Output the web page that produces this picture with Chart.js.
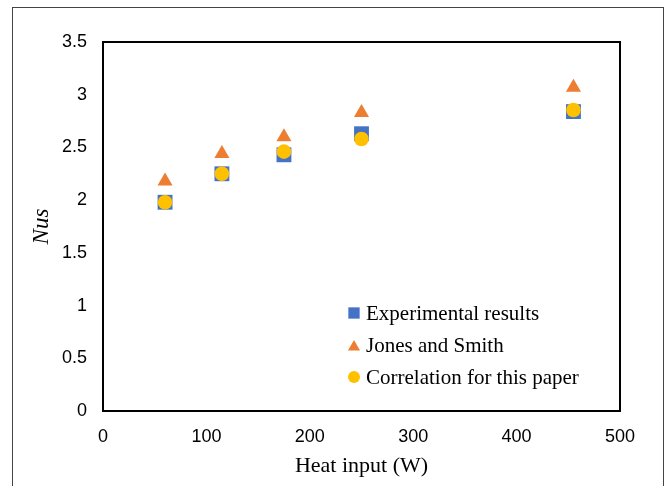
<!DOCTYPE html>
<html>

<head>
    <title>Nus vs heat input</title>
    <script src="https://cdn.jsdelivr.net/npm/chart.js@4"></script>

    <style type="text/css">
        html,
        body {
            margin: 0;
            padding: 0;
            background-color: #ffffff;
        }

        #frame {
            position: absolute;
            left: 12px;
            top: 7px;
            width: 650px;
            height: 520px;
            border: 1px solid #444;
        }

        #wrap {
            position: absolute;
            left: 0;
            top: 0;
            width: 666px;
            height: 486px;
        }
    </style>
</head>

<body>
    <div id="frame"></div>
    <div id="wrap"><canvas id="chartNus"></canvas></div>

    <script>
        // heat input (W)
        const heatInput = [60, 115, 175, 250, 455];

        // Nusselt numbers
        const experimental = [1.98, 2.25, 2.43, 2.63, 2.84];
        const jonesSmith = [2.18, 2.44, 2.60, 2.83, 3.07];
        const correlation = [1.98, 2.25, 2.46, 2.58, 2.855];

        const seriesNames = ["Experimental results", "Jones and Smith", "Correlation for this paper"];

        const xTicks = [0, 100, 200, 300, 400, 500];
        const yTicks = [0, 0.5, 1, 1.5, 2, 2.5, 3, 3.5];

        function toPoints(ys) {
            return heatInput.map(function(x, i) {
                return { x: x, y: ys[i] };
            });
        }

        // box round the plot area
        const frameBox = {
            id: 'frameBox',
            afterDraw: function(chart) {
                let ca = chart.chartArea;
                let ctx = chart.ctx;
                ctx.save();
                ctx.strokeStyle = '#000';
                ctx.lineWidth = 2;
                ctx.strokeRect(ca.left, ca.top, ca.right - ca.left, ca.bottom - ca.top);
                ctx.restore();
            }
        };

        // legend sitting inside the plot, lower right
        const insideLegend = {
            id: 'insideLegend',
            afterDraw: function(chart) {
                let ca = chart.chartArea;
                let ctx = chart.ctx;
                let sizes = [8, 7, 6];
                ctx.save();
                ctx.font = '21px "Liberation Serif", "Times New Roman", serif';
                ctx.textBaseline = 'middle';
                ctx.textAlign = 'left';
                chart.data.datasets.forEach(function(ds, i) {
                    let x = ca.left + 251;
                    let y = ca.top + 271 + i * 32;
                    ctx.fillStyle = ds.backgroundColor;
                    Chart.helpers.drawPoint(ctx, {
                        pointStyle: ds.pointStyle,
                        radius: sizes[i],
                        rotation: 0,
                        borderWidth: 0
                    }, x, y + (ds.pointStyle === 'triangle' ? 2 : 0));
                    ctx.fillStyle = '#000';
                    ctx.fillText(ds.label, x + 12, y + 1);
                });
                ctx.restore();
            }
        };

        function plainLabel(value) {
            return String(value);
        }

        window.onload = function() {
            let ctx = document.getElementById('chartNus').getContext('2d');

            new Chart(ctx, {
                type: 'scatter',
                data: {
                    datasets: [{
                        label: seriesNames[0],
                        data: toPoints(experimental),
                        pointStyle: 'rect',
                        pointRadius: 10.5,
                        backgroundColor: '#4472C4',
                        borderWidth: 0,
                        order: 3
                    }, {
                        label: seriesNames[1],
                        data: toPoints(jonesSmith),
                        pointStyle: 'triangle',
                        pointRadius: 8.7,
                        backgroundColor: '#ED7D31',
                        borderWidth: 0,
                        order: 2
                    }, {
                        label: seriesNames[2],
                        data: toPoints(correlation),
                        pointStyle: 'circle',
                        pointRadius: 7.3,
                        backgroundColor: '#FFC000',
                        borderWidth: 0,
                        order: 1
                    }]
                },
                options: {
                    responsive: true,
                    maintainAspectRatio: false,
                    animation: false,
                    layout: {
                        padding: { left: 0, top: 42, right: 46, bottom: 0 }
                    },
                    plugins: {
                        legend: { display: false },
                        tooltip: { enabled: false }
                    },
                    scales: {
                        x: {
                            type: 'linear',
                            min: 0,
                            max: 500,
                            afterBuildTicks: function(scale) {
                                scale.ticks = xTicks.map(function(v) { return { value: v }; });
                            },
                            afterFit: function(scale) {
                                scale.height = 75;
                            },
                            grid: { display: false, drawTicks: false },
                            border: { display: false },
                            ticks: {
                                padding: 15,
                                color: '#000',
                                callback: plainLabel,
                                font: { family: '"Liberation Sans", Arial, sans-serif', size: 18 }
                            },
                            title: {
                                display: true,
                                text: 'Heat input (W)',
                                color: '#000',
                                padding: { top: 0, bottom: 7 },
                                font: { family: '"Liberation Serif", "Times New Roman", serif', size: 22 }
                            }
                        },
                        y: {
                            type: 'linear',
                            min: 0,
                            max: 3.5,
                            afterBuildTicks: function(scale) {
                                scale.ticks = yTicks.map(function(v) { return { value: v }; });
                            },
                            afterFit: function(scale) {
                                scale.width = 103;
                            },
                            grid: { display: false, drawTicks: false },
                            border: { display: false },
                            ticks: {
                                padding: 16,
                                color: '#000',
                                callback: plainLabel,
                                font: { family: '"Liberation Sans", Arial, sans-serif', size: 18 }
                            },
                            title: {
                                display: true,
                                text: 'Nus',
                                color: '#000',
                                padding: { top: 28, bottom: 0 },
                                font: { family: '"Liberation Serif", "Times New Roman", serif', size: 23, style: 'italic' }
                            }
                        }
                    }
                },
                plugins: [frameBox, insideLegend]
            });
        };
    </script>
</body>

</html>
